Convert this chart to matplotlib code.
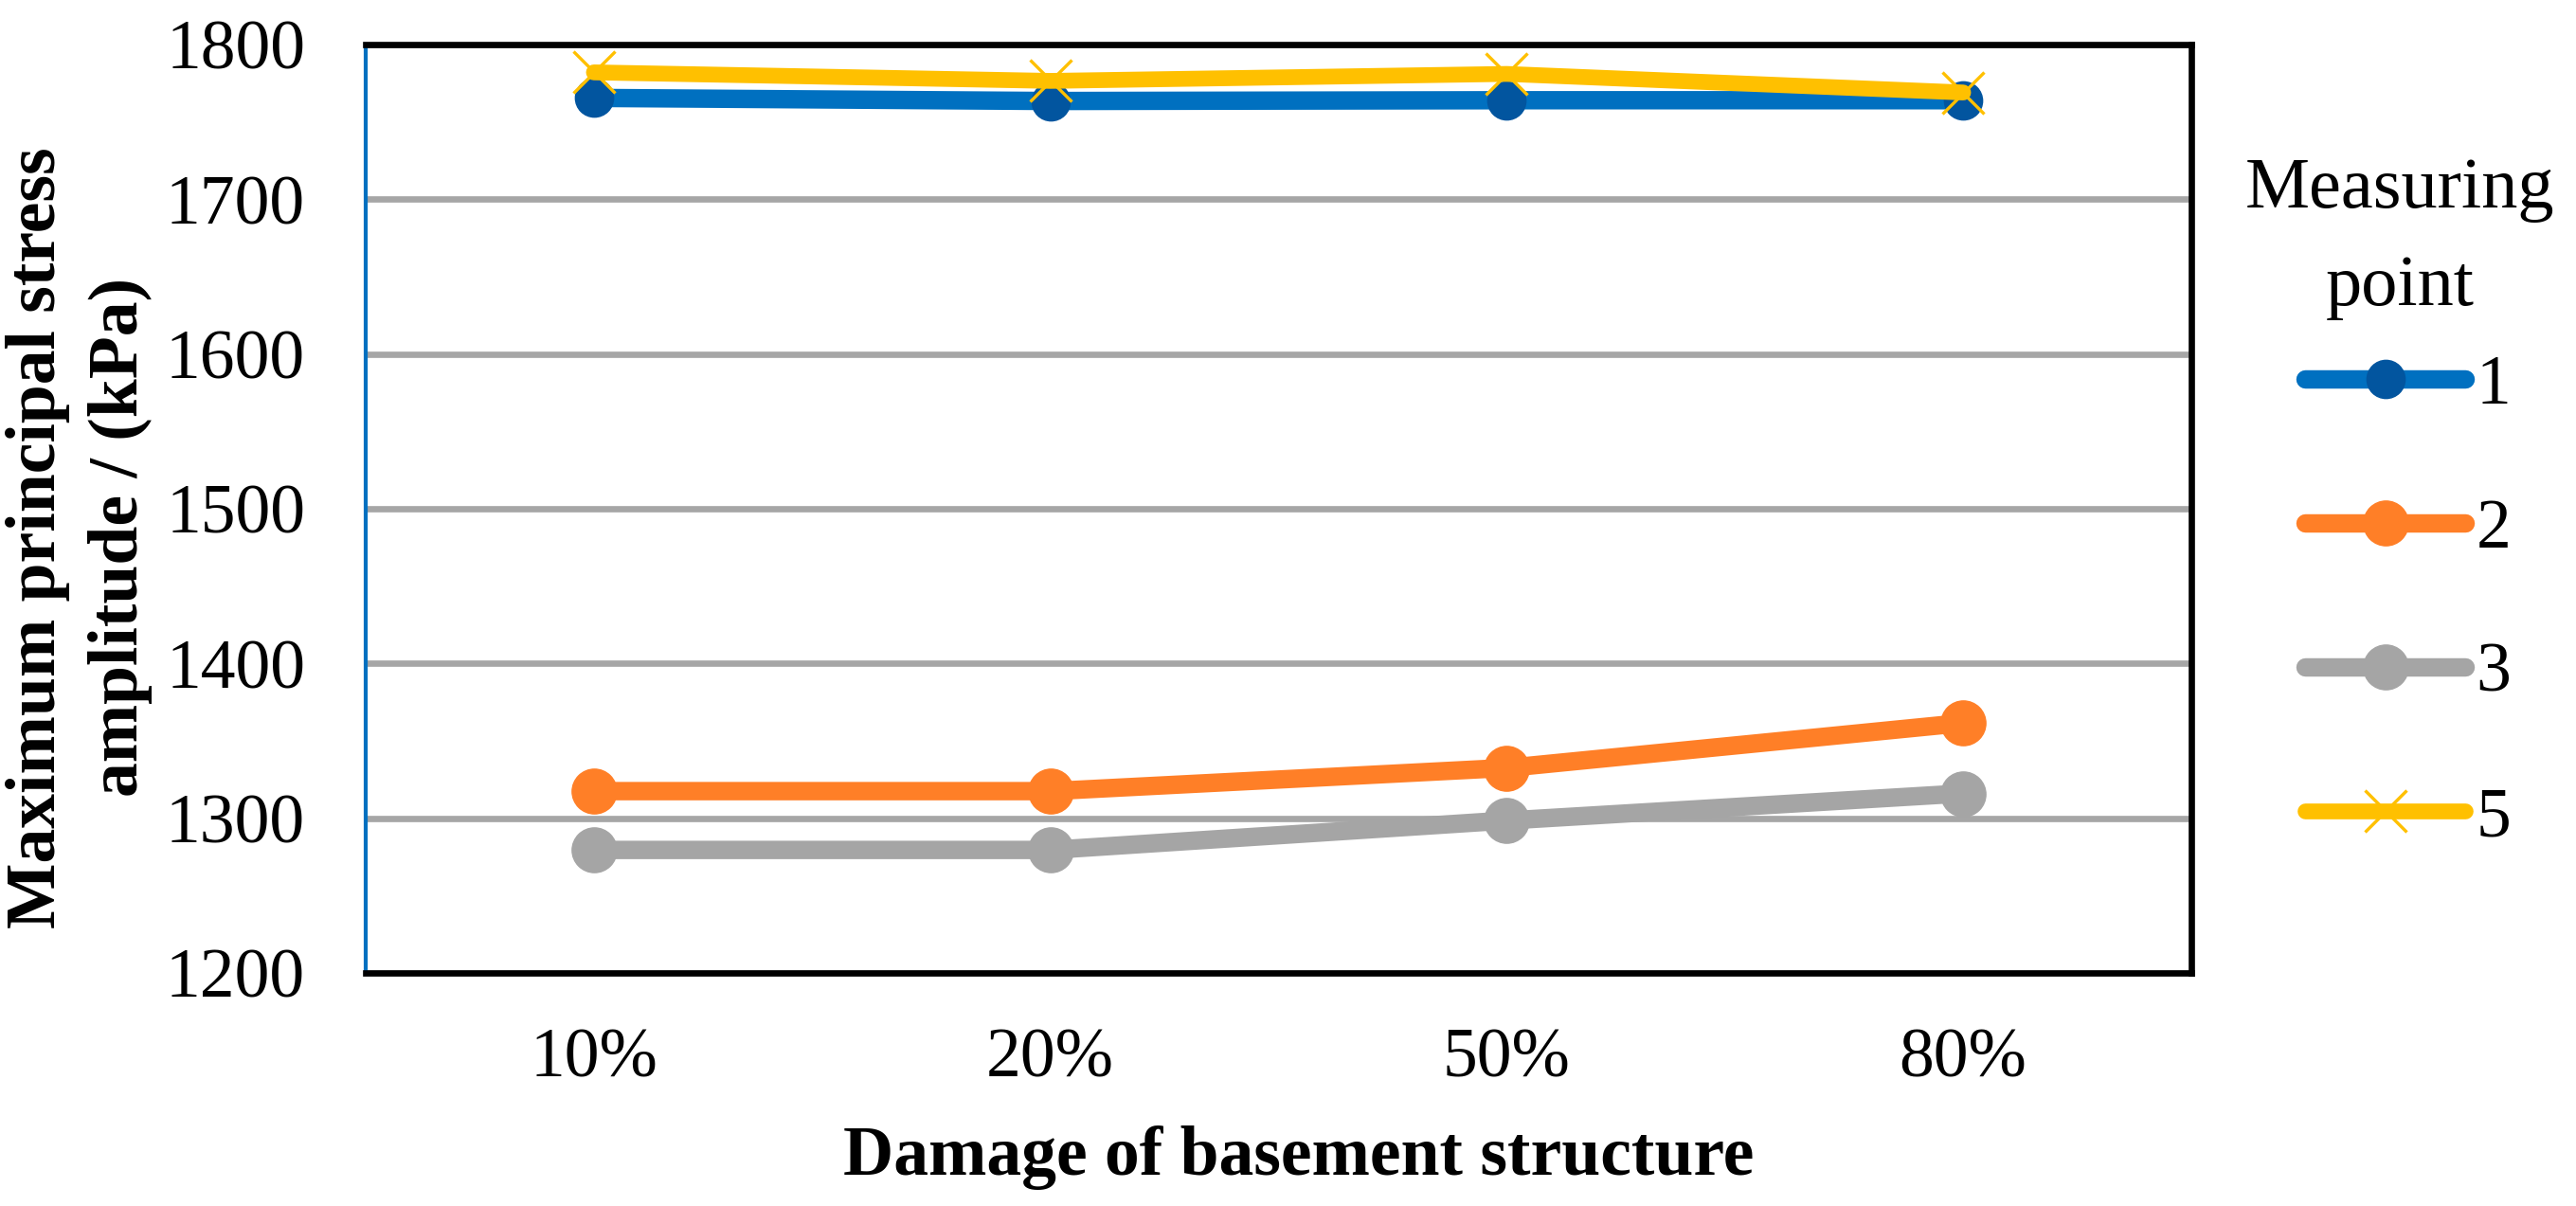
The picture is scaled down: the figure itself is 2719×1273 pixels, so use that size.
import numpy as np
import matplotlib
matplotlib.use("Agg")
import matplotlib.pyplot as plt

plt.rcParams['font.family'] = ['Liberation Serif', 'DejaVu Serif']

categories = ['10%', '20%', '50%', '80%']
point1 = [1765.5, 1763.5, 1764, 1764]
point2 = [1317.5, 1317.5, 1332.5, 1361.5]
point3 = [1279.5, 1279.5, 1298.5, 1316]
point5 = [1782, 1776.5, 1781, 1769]
yticks = [1200, 1300, 1400, 1500, 1600, 1700, 1800]

W, H = 2719, 1273
fig = plt.figure(figsize=(W / 100, H / 100), dpi=100)
ax = fig.add_axes([386 / W, 1 - 1027 / H, (2313 - 386) / W, (1027 - 47) / H])

x = np.arange(len(categories))
ax.plot(x, point1, '-o', color='#0070C0', lw=14, ms=29, solid_capstyle='round',
        mfc='#02559F', mec='#02559F', label='1', zorder=3)
ax.plot(x, point2, '-o', color='#FF7F27', lw=14, ms=34, solid_capstyle='round',
        mfc='#FF7F27', mec='#FF7F27', label='2', zorder=3)
ax.plot(x, point3, '-o', color='#A5A5A5', lw=14, ms=34, solid_capstyle='round',
        mfc='#A5A5A5', mec='#A5A5A5', label='3', zorder=3)
ax.plot(x, point5, '-x', color='#FFC000', lw=12, ms=32, mew=2.4,
        solid_capstyle='round', label='5', zorder=4)

ax.set_xlim(-0.5, len(categories) - 0.5)
ax.set_ylim(1200, 1800)
ax.set_xticks(x)
ax.set_xticklabels(categories)
ax.set_yticks(yticks)
ax.tick_params(axis='both', length=0, labelsize=53)
ax.tick_params(axis='x', pad=42)
ax.tick_params(axis='y', pad=46)

ax.grid(axis='y', color='#A6A6A6', lw=4.8, zorder=1)
ax.set_axisbelow(True)
for s in ['top', 'right', 'bottom']:
    ax.spines[s].set_color('black')
    ax.spines[s].set_linewidth(4.8)
ax.spines['left'].set_color('#0070C0')
ax.spines['left'].set_linewidth(3)

# axis titles
ax.text(-0.157, 0.469, 'Maximum principal stress\namplitude / (kPa)',
        transform=ax.transAxes, rotation=90, ha='center', va='center',
        fontsize=53, fontweight='bold', linespacing=1.35)
ax.text(0.511, -0.217, 'Damage of basement structure', transform=ax.transAxes,
        ha='center', va='baseline', fontsize=53, fontweight='bold')

# legend with a separate title
fig.text(2533 / W, 1 - 219 / H, 'Measuring', ha='center', va='baseline', fontsize=55)
fig.text(2533 / W, 1 - 322 / H, 'point', ha='center', va='baseline', fontsize=55)
leg = fig.legend(loc='upper left', bbox_to_anchor=(2433 / W, 1 - 374 / H),
                 frameon=False, fontsize=53, handlelength=2.3, handletextpad=0.15,
                 labelspacing=1.15, borderpad=0, borderaxespad=0)

fig.savefig('out.png', dpi=100)
